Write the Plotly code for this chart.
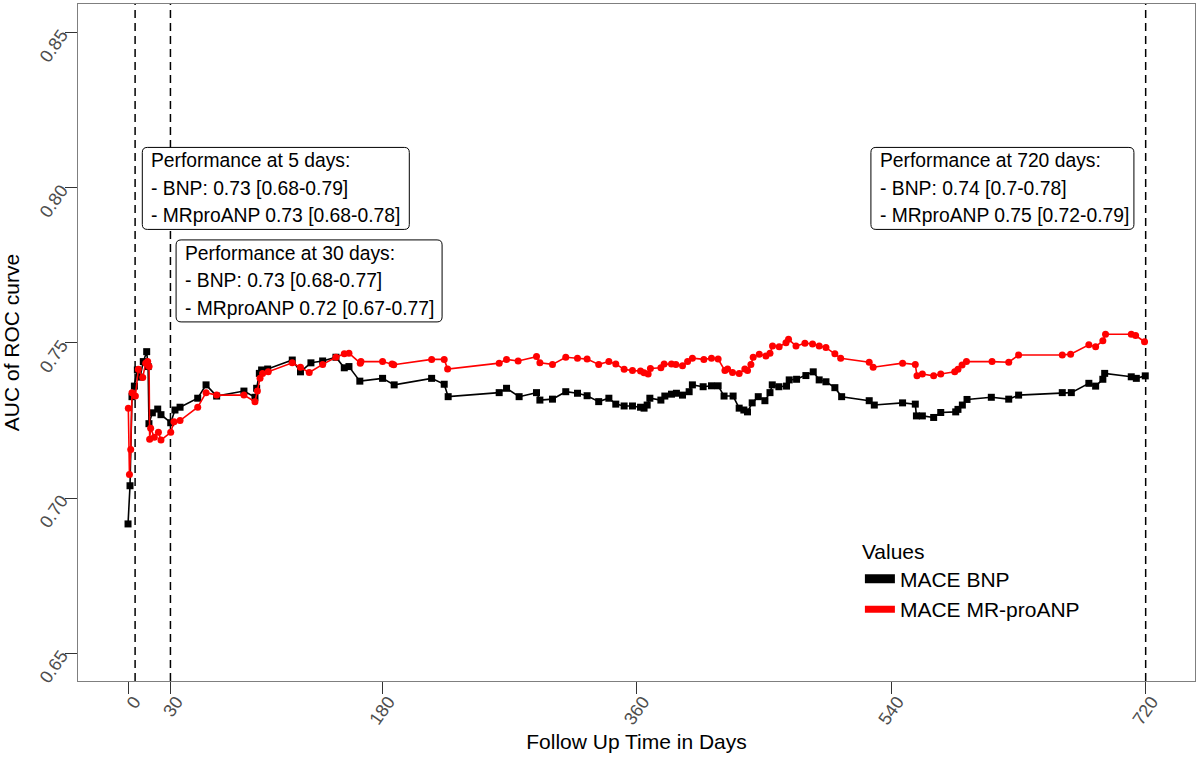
import plotly.graph_objects as go

# ---------------- data ----------------
days_bnp = [0, 1.4, 2.8, 4.5, 6.6, 8.5, 10.8, 13.2, 14.2, 14.8, 17.2, 21, 23.3, 30.2, 33.2, 36.8,
            49.3, 55.2, 62.7, 82, 89.8, 91, 92.9, 94.5, 98.8, 116.2, 122, 129.4, 137.7, 147.1,
            153, 156.3, 164, 180.1, 188.3, 214.8, 223.7, 226.5, 262.6, 267.8, 276.7, 289, 291.4,
            300.3, 309.7, 318, 324.8, 333, 340.2, 345.1, 351, 356.9, 362.6, 365.1, 367.3, 369.2,
            377, 379.8, 384.5, 388, 392.3, 397, 399.3, 406.9, 412.8, 417.5, 421.7, 428.1, 432.4,
            435.7, 438.3, 441.6, 445.9, 450.6, 454.2, 455.8, 460.5, 465.9, 467.8, 473, 479.6,
            484.8, 489, 493.8, 500.1, 504.9, 524.4, 528, 548, 557, 557.8, 562, 570, 575, 585.6,
            587.2, 590.3, 593.6, 610.8, 623.1, 630.1, 661, 667.4, 679.8, 684.6, 689.7, 691,
            709.8, 713.4, 719.7]
auc_bnp = [0.6917, 0.704, 0.7327, 0.7361, 0.7413, 0.739, 0.744, 0.7472, 0.7424, 0.724, 0.7275,
           0.7287, 0.7269, 0.7243, 0.7284, 0.7293, 0.7322, 0.7365, 0.7329, 0.7345, 0.7325, 0.7354,
           0.7402, 0.7413, 0.7416, 0.7445, 0.7407, 0.7436, 0.7442, 0.7454, 0.742, 0.7424, 0.7377,
           0.7386, 0.7365, 0.7386, 0.7367, 0.7327, 0.734, 0.7354, 0.7327, 0.734, 0.7316, 0.7319,
           0.7343, 0.7338, 0.733, 0.7311, 0.7322, 0.7303, 0.7297, 0.7297, 0.7293, 0.729, 0.73,
           0.7322, 0.7316, 0.7329, 0.7335, 0.7338, 0.7332, 0.7343, 0.7365, 0.7359, 0.7362, 0.7362,
           0.7329, 0.7329, 0.729, 0.7284, 0.7278, 0.7307, 0.7327, 0.7314, 0.734, 0.7365, 0.7359,
           0.7361, 0.7381, 0.7383, 0.7395, 0.7407, 0.7381, 0.7375, 0.7356, 0.7327, 0.7314, 0.73,
           0.7307, 0.7303, 0.7265, 0.7265, 0.726, 0.7276, 0.7278, 0.7286, 0.73, 0.7318, 0.7325,
           0.7319, 0.7332, 0.734, 0.734, 0.737, 0.7361, 0.7383, 0.7402, 0.7391, 0.7386, 0.7394]

days_mr = [0.2, 1, 1.9, 2.8, 5.2, 7.3, 10.4, 12.5, 13.9, 14.9, 15.3, 16, 18.6, 21.5, 23.3, 30.2,
           32.5, 36.8, 49.3, 55.2, 62.7, 82, 89.8, 91.5, 93.4, 95.2, 99.2, 116.2, 122, 128.2,
           137.7, 147.1, 153, 156.3, 164.3, 164.8, 180.1, 186.8, 188, 214.8, 223.7, 226.1, 262.6,
           267.8, 276, 289, 291.4, 300.3, 309.7, 318, 324.8, 333, 340.2, 345.1, 351, 356.9, 362.6,
           365.1, 368, 369.6, 377, 379.3, 384.5, 387.6, 392.3, 395.9, 399.3, 407.4, 412.8, 417.5,
           422.3, 424.2, 427.7, 432.4, 436.4, 438.3, 440.7, 442.3, 446.6, 451.3, 454.2, 456,
           460.7, 465.5, 467.3, 472.6, 478.9, 484.3, 489, 493.8, 500.1, 504.2, 524.4, 527.2, 548,
           557, 558.2, 562, 570, 575, 584.9, 587.2, 590.1, 593.2, 611.3, 623.1, 630.1, 661, 666.9,
           679.8, 684.6, 689.7, 691.6, 709.8, 712.9, 719.2]
auc_mr = [0.729, 0.7076, 0.7157, 0.734, 0.7329, 0.7415, 0.7389, 0.7435, 0.744, 0.7424, 0.719,
          0.7225, 0.7196, 0.7212, 0.7187, 0.7212, 0.7246, 0.725, 0.7293, 0.734, 0.7332, 0.7332,
          0.7311, 0.7345, 0.7386, 0.7402, 0.7407, 0.7436, 0.7422, 0.7405, 0.7431, 0.7454, 0.7465,
          0.7467, 0.7435, 0.744, 0.744, 0.7432, 0.743, 0.7447, 0.7447, 0.7416, 0.7435, 0.7447,
          0.7442, 0.7456, 0.7436, 0.7431, 0.7454, 0.7451, 0.7448, 0.7431, 0.744, 0.7432, 0.7415,
          0.7411, 0.741, 0.7404, 0.74, 0.7418, 0.742, 0.7432, 0.7432, 0.7431, 0.7427, 0.744,
          0.7451, 0.7447, 0.7451, 0.7448, 0.7411, 0.7416, 0.7405, 0.7402, 0.7416, 0.7411, 0.7431,
          0.7454, 0.7464, 0.7458, 0.7467, 0.749, 0.7488, 0.7501, 0.7512, 0.749, 0.7499, 0.7497,
          0.749, 0.7485, 0.7465, 0.7451, 0.7438, 0.7422, 0.7435, 0.7431, 0.7394, 0.74, 0.7394,
          0.74, 0.7407, 0.7415, 0.7429, 0.744, 0.744, 0.7438, 0.7461, 0.7461, 0.7464, 0.7494,
          0.7488, 0.7507, 0.7528, 0.7528, 0.7524, 0.7504]

series_names = ["MACE BNP", "MACE MR-proANP"]
x_ticks = [0, 30, 180, 360, 540, 720]
y_ticks = [0.65, 0.70, 0.75, 0.80, 0.85]
y_tick_labels = ["0.65", "0.70", "0.75", "0.80", "0.85"]

cutoff_days = [5, 30, 720]
perf_titles = ["Performance at 5 days:", "Performance at 30 days:", "Performance at 720 days:"]
perf_bnp = ["- BNP: 0.73 [0.68-0.79]", "- BNP: 0.73 [0.68-0.77]", "- BNP: 0.74 [0.7-0.78]"]
perf_mr = ["- MRproANP 0.73 [0.68-0.78]", "- MRproANP 0.72 [0.67-0.77]", "- MRproANP 0.75 [0.72-0.79]"]

# ---------------- layout helpers ----------------
FONT = "Liberation Sans, Arial, Helvetica, sans-serif"
label_x = [10.1, 34.0, 525.6]      # left edge of each label box (days)
label_y = [0.8130, 0.7832, 0.8130]  # top edge of each label box (AUC)
label_w = [267, 266, 263]          # px
label_h = 82                        # px
line_gap = 27.5
first_line = 13.5


def rounded_box(w, h, r=5):
    return (f"M {r},0 L {w-r},0 Q {w},0 {w},{-r} L {w},{-(h-r)} Q {w},{-h} {w-r},{-h} "
            f"L {r},{-h} Q 0,{-h} 0,{-(h-r)} L 0,{-r} Q 0,0 {r},0 Z")


fig = go.Figure()

fig.add_trace(go.Scatter(x=days_bnp, y=auc_bnp, mode="lines+markers", showlegend=False,
                         line=dict(color="black", width=1.6),
                         marker=dict(symbol="square", size=7, color="black")))
fig.add_trace(go.Scatter(x=days_mr, y=auc_mr, mode="lines+markers", showlegend=False,
                         line=dict(color="#ff0000", width=1.6),
                         marker=dict(symbol="circle", size=7, color="#ff0000")))
# legend entries
for name, col, w in zip(series_names, ["black", "#ff0000"], [9, 7]):
    fig.add_trace(go.Scatter(x=[None], y=[None], mode="lines", name=name,
                             line=dict(color=col, width=w)))

shapes = []
for d in cutoff_days:
    shapes.append(dict(type="line", xref="x", yref="paper", x0=d, x1=d, y0=0, y1=1,
                       line=dict(color="black", width=1.5, dash="8px,5px"), layer="below"))

annotations = []
for i in range(3):
    shapes.append(dict(type="path", xref="x", yref="y", xsizemode="pixel", ysizemode="pixel",
                       xanchor=label_x[i], yanchor=label_y[i],
                       path=rounded_box(label_w[i], label_h),
                       fillcolor="white", line=dict(color="black", width=1), layer="above"))
    for k, txt in enumerate([perf_titles[i], perf_bnp[i], perf_mr[i]]):
        annotations.append(dict(x=label_x[i], y=label_y[i], xref="x", yref="y",
                                text=txt, showarrow=False, xanchor="left", yanchor="middle",
                                xshift=7, yshift=-(first_line + line_gap * k),
                                font=dict(family=FONT, size=19.3, color="black")))

fig.update_layout(
    width=1199, height=760,
    margin=dict(l=78, r=4, t=4, b=79),
    paper_bgcolor="white", plot_bgcolor="white",
    font=dict(family=FONT, color="black"),
    shapes=shapes, annotations=annotations,
    legend=dict(x=0.700, y=0.221, xanchor="left", yanchor="top",
                bgcolor="rgba(0,0,0,0)",
                title=dict(text="Values", font=dict(size=21, family=FONT)),
                font=dict(size=21, family=FONT), tracegroupgap=0),
    xaxis=dict(range=[-35.4, 754.9], tickvals=x_ticks, ticktext=[str(t) for t in x_ticks],
               tickangle=-55, ticks="outside", ticklen=12, tickcolor="#333333",
               tickfont=dict(size=18, color="#4d4d4d", family=FONT),
               ticklabelshift=6, ticklabelstandoff=-10,
               showline=True, mirror=True, linecolor="#7f7f7f", linewidth=1,
               showgrid=False, zeroline=False, automargin=False,
               title=dict(text="Follow Up Time in Days", standoff=6,
                          font=dict(size=21, family=FONT))),
    yaxis=dict(range=[0.6411, 0.8592], tickvals=y_ticks, ticktext=y_tick_labels,
               tickangle=-55, ticks="outside", ticklen=12, tickcolor="#333333",
               tickfont=dict(size=18, color="#4d4d4d", family=FONT),
               showline=True, mirror=True, linecolor="#7f7f7f", linewidth=1,
               showgrid=False, zeroline=False, automargin=False,
               title=dict(text="AUC of ROC curve", font=dict(size=21, family=FONT))),
)

fig.write_html("out.html", config={"displayModeBar": False},
               post_script="document.body.style.margin='0';document.body.style.padding='0';"
                           "document.body.style.overflow='hidden';")
